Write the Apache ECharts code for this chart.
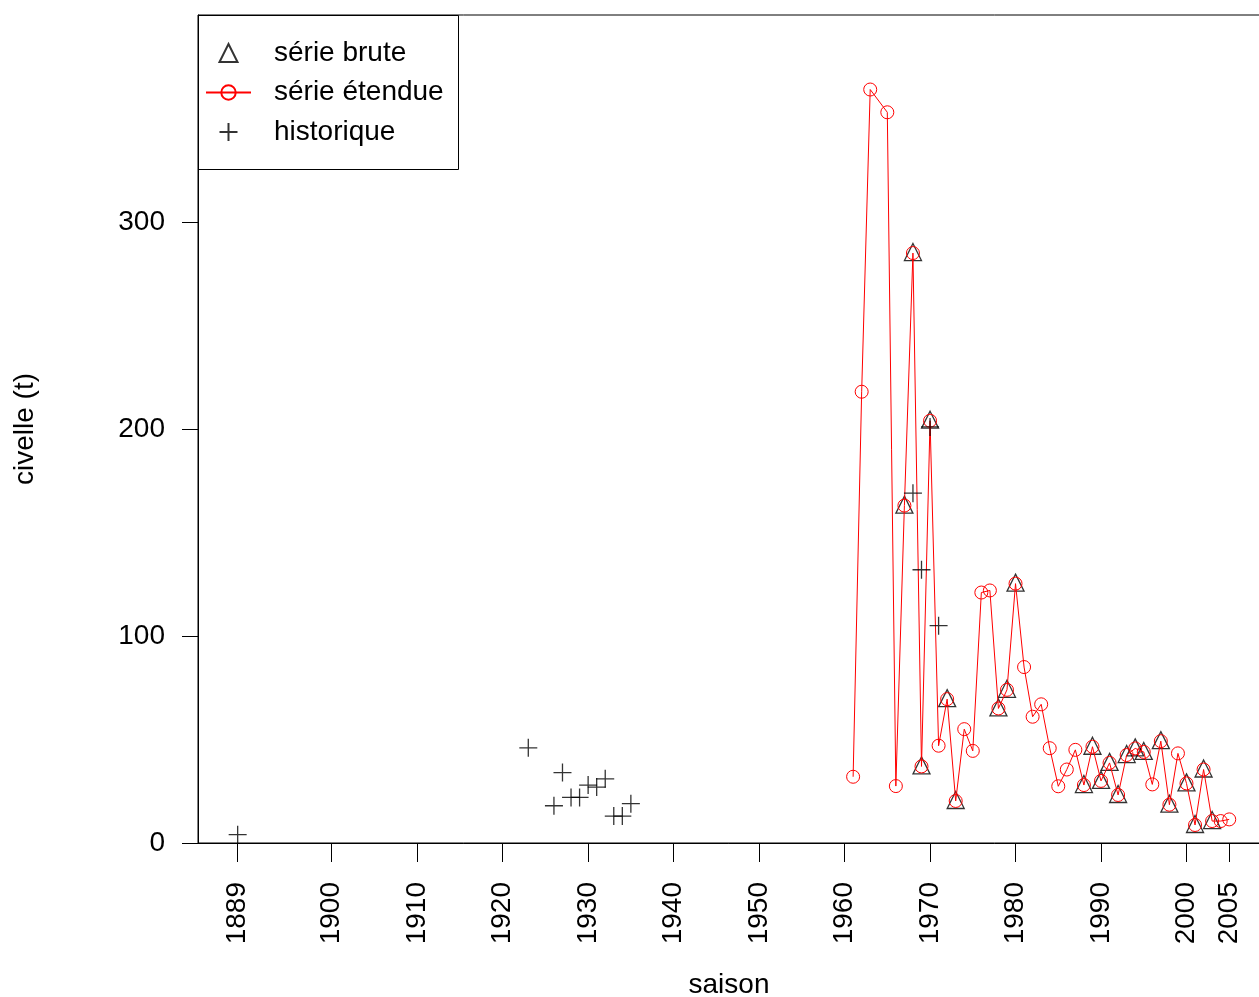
<!DOCTYPE html>
<html>
<head>
<meta charset="utf-8">
<script src="https://cdn.jsdelivr.net/npm/echarts@6/dist/echarts.min.js"></script>
<style>html,body{margin:0;padding:0;background:#fff}#c{width:1259px;height:997px}</style>
</head>
<body>
<div id="c"></div>
<script>
var xTicks = [1889, 1900, 1910, 1920, 1930, 1940, 1950, 1960, 1970, 1980, 1990, 2000, 2005];
var yTicks = [0, 100, 200, 300];

var histYears = [1889, 1923, 1926, 1927, 1928, 1929, 1930, 1931, 1932, 1933, 1934, 1935, 1968, 1969, 1970, 1971];
var histVals  = [4, 46, 18, 34, 22, 22, 28, 27, 31, 13, 13, 19, 169, 132, 201, 105];

var etYears = [1961, 1962, 1963, 1965, 1966, 1967, 1968, 1969, 1970, 1971, 1972, 1973, 1974, 1975, 1976, 1977, 1978, 1979, 1980,
               1981, 1982, 1983, 1984, 1985, 1986, 1987, 1988, 1989, 1990, 1991, 1992, 1993, 1994, 1995, 1996, 1997, 1998, 1999,
               2000, 2001, 2002, 2003, 2004, 2005];
var etVals  = [32, 218, 364, 353, 27.5, 163, 285, 37, 204, 47, 69.5, 20.3, 55, 44.5, 121, 122, 65, 74, 125.3,
               85, 61, 67, 45.8, 27.4, 35.5, 45, 28, 46.5, 30, 38.7, 23.2, 42.5, 45.7, 44, 28.3, 49.2, 18.5, 43.3,
               28.8, 8.7, 35.5, 10.6, 10.6, 11.4];

var bruteYears = [1967, 1968, 1969, 1970, 1972, 1973, 1978, 1979, 1980, 1988, 1989, 1990, 1991, 1992, 1993, 1994, 1995,
                  1997, 1998, 2000, 2001, 2002, 2003];
var bruteVals  = [163, 285, 37, 204, 69.5, 20.3, 65, 74, 125.3, 28, 46.5, 30, 38.7, 23.2, 42.5, 45.7, 44,
                  49.2, 18.5, 28.8, 8.7, 35.5, 10.6];

function pairs(xs, ys) { return xs.map(function (x, i) { return [x, ys[i]]; }); }

var FONT = '"Liberation Sans", Arial, sans-serif';
var FS = 28;
var TRI = 'path://M5 0L10 10L0 10Z';
var PLUS = 'path://M5 0L5 10M0 5L10 5';
var chart = echarts.init(document.getElementById('c'), null, { renderer: 'canvas' });
chart.setOption({
  animation: false,
  backgroundColor: '#fff',
  grid: { left: 198, right: -1, top: 15, bottom: 154, containLabel: false, outerBoundsMode: 'none',
          show: true, borderColor: '#000', borderWidth: 1, backgroundColor: 'transparent' },
  xAxis: {
    type: 'value', min: 1884.36, max: 2008.6,
    name: 'saison', nameLocation: 'middle', nameGap: 128,
    nameTextStyle: { fontFamily: FONT, fontSize: FS, color: '#000' },
    axisLine: { show: true, lineStyle: { color: '#000', width: 1 } },
    axisTick: { show: true, length: 19, customValues: xTicks, lineStyle: { color: '#000', width: 1 } },
    axisLabel: { customValues: xTicks, rotate: 90, margin: 39, fontFamily: FONT, fontSize: FS, color: '#000',
                 formatter: function (v) { return String(v); } },
    splitLine: { show: false }
  },
  yAxis: {
    type: 'value', min: 0, max: 400,
    name: 'civelle (t)', nameLocation: 'middle', nameGap: 159, nameRotate: 90,
    nameTextStyle: { fontFamily: FONT, fontSize: FS, color: '#000' },
    axisLine: { show: true, lineStyle: { color: '#000', width: 1 } },
    axisTick: { show: true, length: 16, customValues: yTicks, lineStyle: { color: '#000', width: 1 } },
    axisLabel: { customValues: yTicks, margin: 33, fontFamily: FONT, fontSize: FS, color: '#000',
                 formatter: function (v) { return String(v); } },
    splitLine: { show: false }
  },
  legend: {
    orient: 'vertical', left: 205, top: 39, padding: 0,
    itemWidth: 45, itemHeight: 18, itemGap: 11.5, symbolKeepAspect: true,
    textStyle: { fontFamily: FONT, fontSize: FS, color: '#000', padding: [4, 0, 0, 18] },
    data: ['série brute', 'série étendue', 'historique']
  },
  graphic: [{
    type: 'rect', z: 100,
    shape: { x: 198.5, y: 15.5, width: 260, height: 154 },
    style: { fill: 'none', stroke: '#000', lineWidth: 1 }
  }],
  series: [
    {
      name: 'série brute', type: 'scatter', data: pairs(bruteYears, bruteVals),
      symbol: TRI, symbolSize: 17, symbolKeepAspect: true, symbolOffset: [0, -1],
      itemStyle: { color: 'transparent', borderColor: '#000', borderWidth: 1.3 }, z: 2
    },
    {
      name: 'série étendue', type: 'line', data: pairs(etYears, etVals),
      symbol: 'circle', symbolSize: 13, showAllSymbol: true,
      lineStyle: { color: '#ff0000', width: 1 },
      itemStyle: { color: 'transparent', borderColor: '#ff0000', borderWidth: 1 }, z: 3
    },
    {
      name: 'historique', type: 'scatter', data: pairs(histYears, histVals),
      symbol: PLUS, symbolSize: 18,
      itemStyle: { color: 'transparent', borderColor: '#000', borderWidth: 1.3 }, z: 4
    }
  ]
});
</script>
</body>
</html>
